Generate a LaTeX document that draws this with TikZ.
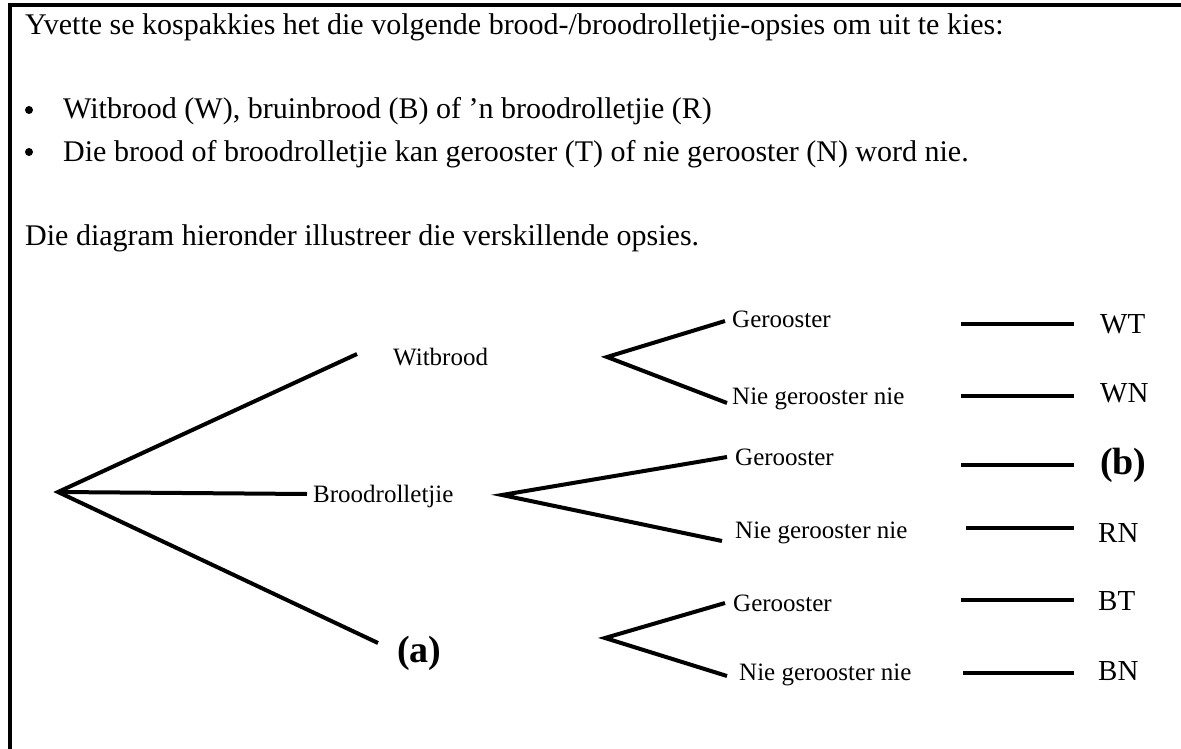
\documentclass[tikz,border=0pt]{standalone}
\usepackage{fontspec}
\setmainfont{Liberation Serif}
\begin{document}
\begin{tikzpicture}[x=1pt,y=-1pt,
  txt/.style={anchor=base west,inner sep=0pt,font=\fontsize{30}{36}\selectfont},
  lab/.style={anchor=base west,inner sep=0pt,font=\fontsize{25}{30}\selectfont},
  code/.style={anchor=base west,inner sep=0pt,font=\fontsize{29}{34}\selectfont},
  big/.style={anchor=base west,inner sep=0pt,font=\fontsize{38}{44}\selectfont\bfseries},
  dotmark/.style={circle,fill=black,inner sep=0pt,minimum size=8pt},
  branch/.style={line width=4pt},
  rulebar/.style={line width=4pt},
  frame/.style={line width=4pt}]
\useasboundingbox (0,0) rectangle (1181,749);
% frame (right and bottom sides lie outside the picture)
\draw[frame] (10,749) -- (10,5) -- (1181,5);
% top text
\node[txt] (title) at (25,35) {Yvette se kospakkies het die volgende brood-/broodrolletjie-opsies om uit te kies:};
\node[dotmark] (bul1) at (29,110) {};
\node[txt] (item1) at (63,119) {Witbrood (W), bruinbrood (B) of 'n broodrolletjie (R)};
\node[dotmark] (bul2) at (29,152) {};
\node[txt] (item2) at (63,161) {Die brood of broodrolletjie kan gerooster (T) of nie gerooster (N) word nie.};
\node[txt] (intro) at (25,245) {Die diagram hieronder illustreer die verskillende opsies.};
% tree points
\coordinate (root) at (58,492);
\coordinate (wEnd) at (357,354);
\coordinate (bEnd) at (307,494);
\coordinate (aEnd) at (378,643);
\coordinate (wFork) at (607,357);
\coordinate (bFork) at (502,495);
\coordinate (aFork) at (605,638);
\coordinate (wT) at (725,321);
\coordinate (wN) at (727,403);
\coordinate (bT) at (727,457);
\coordinate (bN) at (722,541);
\coordinate (aT) at (725,603);
\coordinate (aN) at (727,676);
% first level labels
\node[lab] (witbrood) at (393,365) {Witbrood};
\node[lab] (broodr) at (313,502) {Broodrolletjie};
\node[big] (a) at (397,662) {(a)};
% second level labels
\node[lab] (g1) at (732,327) {Gerooster};
\node[lab] (n1) at (732,404) {Nie gerooster nie};
\node[lab] (g2) at (735,465) {Gerooster};
\node[lab] (n2) at (735,538) {Nie gerooster nie};
\node[lab] (g3) at (733,611) {Gerooster};
\node[lab] (n3) at (739,680) {Nie gerooster nie};
% branches
\draw[branch] (wEnd) -- (root) -- (aEnd);
\draw[branch] (root) -- (bEnd);
\draw[branch] (wT) -- (wFork) -- (wN);
\draw[branch] (bT) -- (bFork) -- (bN);
\draw[branch] (aT) -- (aFork) -- (aN);
% outcome rules
\coordinate (r1a) at (961,324); \coordinate (r1b) at (1074,324);
\coordinate (r2a) at (961,396); \coordinate (r2b) at (1074,396);
\coordinate (r3a) at (961,465); \coordinate (r3b) at (1074,465);
\coordinate (r4a) at (966,528); \coordinate (r4b) at (1074,528);
\coordinate (r5a) at (961,600); \coordinate (r5b) at (1074,600);
\coordinate (r6a) at (963,673); \coordinate (r6b) at (1074,673);
\draw[rulebar] (r1a) -- (r1b);
\draw[rulebar] (r2a) -- (r2b);
\draw[rulebar] (r3a) -- (r3b);
\draw[rulebar] (r4a) -- (r4b);
\draw[rulebar] (r5a) -- (r5b);
\draw[rulebar] (r6a) -- (r6b);
% outcome labels
\node[code] (WT) at (1100,333) {WT};
\node[code] (WN) at (1100,402) {WN};
\node[big] (b) at (1100,474) {(b)};
\node[code] (RN) at (1098,542) {RN};
\node[code] (BT) at (1098,610) {BT};
\node[code] (BN) at (1098,680) {BN};
\end{tikzpicture}
\end{document}
